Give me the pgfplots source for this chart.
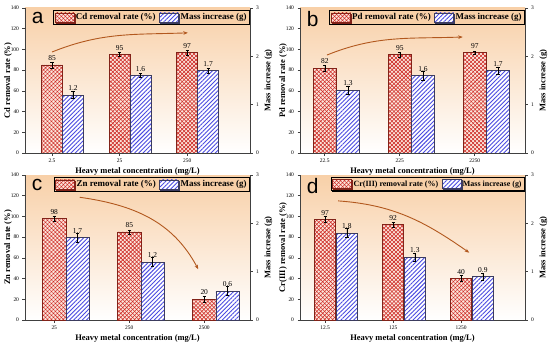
\documentclass[border=0pt]{standalone}
\usepackage{pgfplots}
\pgfplotsset{compat=1.18}
\usepackage{fontspec}
\setmainfont{Liberation Serif}
\setsansfont{Liberation Sans}
\usetikzlibrary{patterns.meta,shadows,arrows.meta}

\definecolor{peachtop}{RGB}{248,208,168}
\definecolor{redline}{RGB}{205,40,35}
\definecolor{redfill}{RGB}{252,230,220}
\definecolor{rededge}{RGB}{130,35,25}
\definecolor{blueline}{RGB}{75,75,225}
\definecolor{blueedge}{RGB}{60,60,95}
\definecolor{arrowcol}{RGB}{178,88,30}

\tikzset{letter/.style={anchor=north west, font=\sffamily\fontsize{21}{21}\selectfont, inner sep=0pt}}

\pgfplotsset{
  base/.style={
    scale only axis, width=225bp, height=145bp,
    xtick={0,1,2},
    /pgf/number format/assume math mode=true,
    tick label style={font=\fontsize{5.5}{6}\selectfont},
    label style={font=\bfseries\fontsize{8.5}{9}\selectfont},
    axis line style={line width=0.8bp, black!75},
    tick style={black!75, line width=0.6bp},
    major tick length=2.5bp,
    tick align=outside,
  },
  leftax/.style={
    base, axis x line*=bottom, axis y line*=left,
    ymin=0, ymax=140, ytick={0,20,...,140},
    axis background/.style={top color=peachtop, bottom color=white},
    xlabel={Heavy metal concentration (mg/L)},
    xlabel style={yshift=2bp},
    ylabel style={yshift=-8bp},
    legend columns=2,
    legend cell align=left,
    legend style={at={(1,0.985)}, anchor=north east,
      font=\bfseries\fontsize{9}{10}\selectfont,
      draw=black, line width=0.7bp, fill=peachtop,
      inner sep=1.5bp, row sep=0pt,
      nodes={inner xsep=1.5bp, inner ysep=1.5bp},
      drop shadow={shadow xshift=1bp, shadow yshift=-1bp, fill=black, opacity=1},
      /tikz/every even column/.append style={column sep=2bp}},
  },
  rightax/.style={
    base, axis x line=none, axis y line*=right,
    ymin=0, ymax=3, ytick={0,1,2,3},
    ylabel={Mass increase (g)},
    ylabel style={yshift=1bp},
  },
  swatch/.style={legend image code/.code={\draw[##1] (0bp,-4.5bp) rectangle (19bp,4.5bp);}},
  redbar/.style={fill=redfill, draw=rededge, line width=0.7bp,
    postaction={pattern={Lines[angle=45,distance=2.8bp,line width=0.55bp]}, pattern color=redline},
    postaction={pattern={Lines[angle=-45,distance=2.8bp,line width=0.55bp]}, pattern color=redline}},
  bluebar/.style={fill=white, draw=blueedge, line width=0.7bp,
    postaction={pattern={Lines[angle=45,distance=3bp,line width=0.9bp]}, pattern color=blueline}},
  barplot/.style={ybar, bar width=0.31, bar shift=0pt,
    nodes near coords, point meta=explicit symbolic,
    every node near coord/.append style={font=\fontsize{7.5}{8}\selectfont, anchor=south, yshift=3bp, inner sep=1bp, black},
    error bars/y dir=both, error bars/y explicit,
    error bars/error bar style={black, line width=0.5bp},
    error bars/error mark options={rotate=90, mark size=1.6bp, black, line width=0.5bp}},
}

\begin{document}
\begin{tikzpicture}
\useasboundingbox (-25bp,-194bp) rectangle (525bp,153bp);

% ---------------- panel a ----------------
\begin{axis}[leftax, at={(0bp,0bp)}, anchor=south west, xmin=-0.40, xmax=2.93,
  xticklabels={2.5,25,250}, ylabel={Cd removal rate (\%)}]
\addlegendimage{redbar, swatch}\addlegendentry{Cd removal rate (\%)}
\addlegendimage{bluebar, swatch}\addlegendentry{Mass increase (g)}
\addplot[redbar, barplot, forget plot] table[x=x, y=y, y error=e, meta=l] {
x y e l
0 85 3 85
1 95 2 95
2 97 2.5 97
};
\draw[arrowcol, line width=0.9bp, -{Stealth[length=4.5bp,width=3.5bp]}] (axis cs:0.0,97.5) to[out=22,in=182] (axis cs:2.01,116);
\node[letter] at (rel axis cs:0.03,0.975) {a};
\end{axis}
\begin{axis}[rightax, at={(0bp,0bp)}, anchor=south west, xmin=-0.40, xmax=2.93]
\addplot[bluebar, barplot] table[x=x, y=y, y error=e, meta=l] {
x y e l
0.31 1.2 0.07 1.2
1.31 1.6 0.04 1.6
2.31 1.7 0.05 1.7
};
\end{axis}

% ---------------- panel b ----------------
\begin{axis}[leftax, at={(275bp,0bp)}, anchor=south west, xmin=-0.33, xmax=2.67,
  xticklabels={22.5,225,2250}, ylabel={Pd removal rate (\%)}]
\addlegendimage{redbar, swatch}\addlegendentry{Pd removal rate (\%)}
\addlegendimage{bluebar, swatch}\addlegendentry{Mass increase (g)}
\addplot[redbar, barplot, forget plot] table[x=x, y=y, y error=e, meta=l] {
x y e l
0 82 3 82
1 95 2.5 95
2 97 1.5 97
};
\draw[arrowcol, line width=0.9bp, -{Stealth[length=4.5bp,width=3.5bp]}] (axis cs:0.03,94.6) to[out=22,in=182] (axis cs:1.84,112);
\node[letter] at (rel axis cs:0.03,0.975) {b};
\end{axis}
\begin{axis}[rightax, at={(275bp,0bp)}, anchor=south west, xmin=-0.33, xmax=2.67]
\addplot[bluebar, barplot] table[x=x, y=y, y error=e, meta=l] {
x y e l
0.31 1.3 0.09 1.3
1.31 1.6 0.09 1.6
2.31 1.7 0.08 1.7
};
\end{axis}

% ---------------- panel c ----------------
\begin{axis}[leftax, at={(0bp,-167bp)}, anchor=south west, xmin=-0.39, xmax=2.61,
  xticklabels={25,250,2500}, ylabel={Zn removal rate (\%)}]
\addlegendimage{redbar, swatch}\addlegendentry{Zn removal rate (\%)}
\addlegendimage{bluebar, swatch}\addlegendentry{Mass increase (g)}
\addplot[redbar, barplot, forget plot] table[x=x, y=y, y error=e, meta=l] {
x y e l
0 98 2.5 98
1 85 2 85
2 20 2.5 20
};
\draw[arrowcol, line width=0.9bp, -{Stealth[length=4.5bp,width=3.5bp]}] (axis cs:0.34,118.5) to[out=-8,in=118] (axis cs:1.92,49);
\node[letter] at (rel axis cs:0.03,0.975) {c};
\end{axis}
\begin{axis}[rightax, at={(0bp,-167bp)}, anchor=south west, xmin=-0.39, xmax=2.61]
\addplot[bluebar, barplot] table[x=x, y=y, y error=e, meta=l] {
x y e l
0.31 1.7 0.09 1.7
1.31 1.2 0.09 1.2
2.31 0.6 0.09 0.6
};
\end{axis}

% ---------------- panel d ----------------
\begin{axis}[leftax, at={(275bp,-167bp)}, anchor=south west, xmin=-0.37, xmax=2.94,
  xticklabels={12.5,125,1250}, ylabel={Cr(III) removal rate (\%)},
  legend style={font=\bfseries\fontsize{8}{9}\selectfont}]
\addlegendimage{redbar, swatch}\addlegendentry{Cr(III) removal rate (\%)}
\addlegendimage{bluebar, swatch}\addlegendentry{Mass increase (g)}
\addplot[redbar, barplot, forget plot] table[x=x, y=y, y error=e, meta=l] {
x y e l
0 97 3 97
1 92 2 92
2 40 3 40
};
\draw[arrowcol, line width=0.9bp, -{Stealth[length=4.5bp,width=3.5bp]}] (axis cs:0.19,115) to[out=-4,in=145] (axis cs:2.12,65);
\node[letter] at (rel axis cs:0.03,0.975) {d};
\end{axis}
\begin{axis}[rightax, at={(275bp,-167bp)}, anchor=south west, xmin=-0.37, xmax=2.94]
\addplot[bluebar, barplot] table[x=x, y=y, y error=e, meta=l] {
x y e l
0.32 1.8 0.09 1.8
1.32 1.3 0.09 1.3
2.32 0.9 0.07 0.9
};
\end{axis}
\end{tikzpicture}
\end{document}
